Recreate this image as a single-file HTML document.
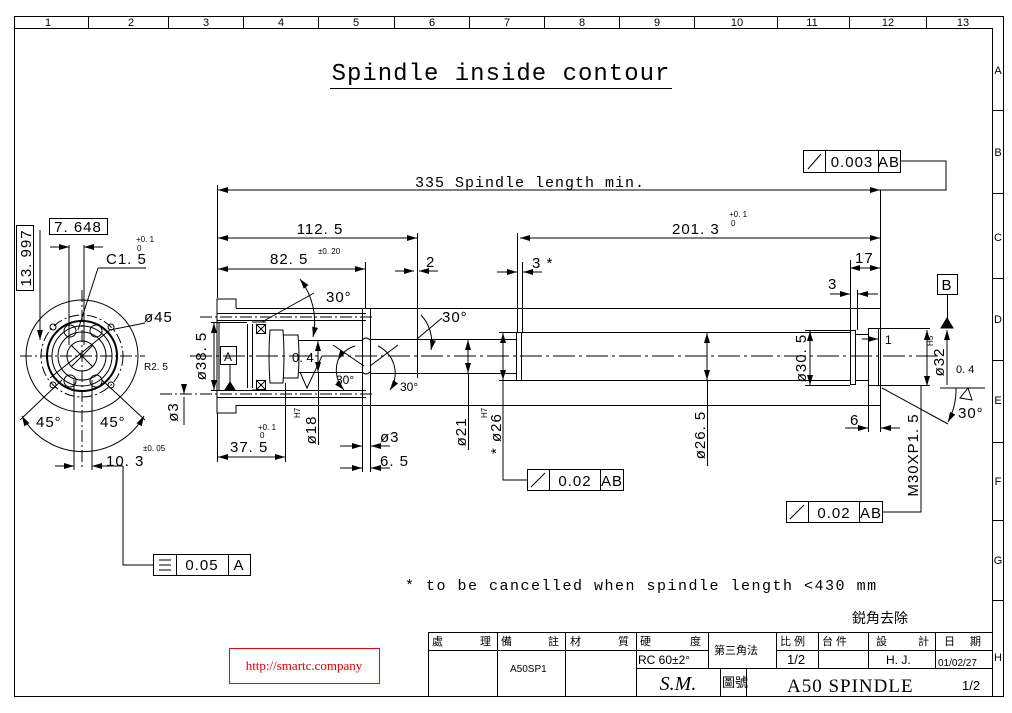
<!DOCTYPE html>
<html><head><meta charset="utf-8"><style>
html,body{margin:0;padding:0;background:#fff}
svg{display:block}
text{font-family:"Liberation Sans","Noto Sans CJK TC",sans-serif;fill:#000}
.d{font-size:15px;letter-spacing:1px}
.m{font-family:"Liberation Mono",monospace;font-size:15px;letter-spacing:1px}
.s{font-size:8px}
</style></head><body>
<svg width="1012" height="713" viewBox="0 0 1012 713" xmlns="http://www.w3.org/2000/svg">
<defs>
<marker id="a" viewBox="0 0 10 6" refX="10" refY="3" markerWidth="10" markerHeight="6" orient="auto-start-reverse"><path d="M0,0 L10,3 L0,6z" fill="#000"/></marker>
</defs>
<g fill="none" stroke="#000" stroke-width="1">
<rect x="14.5" y="16.5" width="989" height="680"/>
<line x1="14" y1="28.5" x2="992" y2="28.5"/>
<line x1="992.5" y1="28" x2="992.5" y2="697"/>
<path d="M88.5 16v12M168.5 16v12M243.5 16v12M318.5 16v12M394.5 16v12M469.5 16v12M544.5 16v12M619.5 16v12M694.5 16v12M777.5 16v12M849.5 16v12M926.5 16v12"/>
<path d="M992 110.5h11M992 193.5h11M992 278.5h11M992 360.5h11M992 442.5h11M992 520.5h11M992 600.5h11"/>
<line x1="330" y1="88.5" x2="672" y2="88.5"/>
</g>
<g class="s" font-size="11" text-anchor="middle">
<text x="48" y="26" font-size="11">1</text><text x="131" y="26" font-size="11">2</text><text x="206" y="26" font-size="11">3</text><text x="281" y="26" font-size="11">4</text><text x="356" y="26" font-size="11">5</text><text x="432" y="26" font-size="11">6</text><text x="507" y="26" font-size="11">7</text><text x="582" y="26" font-size="11">8</text><text x="657" y="26" font-size="11">9</text><text x="737" y="26" font-size="11">10</text><text x="812" y="26" font-size="11">11</text><text x="888" y="26" font-size="11">12</text><text x="963" y="26" font-size="11">13</text>
<text x="998" y="74" font-size="11">A</text><text x="998" y="156" font-size="11">B</text><text x="998" y="241" font-size="11">C</text><text x="998" y="323" font-size="11">D</text><text x="998" y="404" font-size="11">E</text><text x="998" y="485" font-size="11">F</text><text x="998" y="564" font-size="11">G</text><text x="998" y="661" font-size="11">H</text>
</g>
<text x="501" y="80" text-anchor="middle" font-size="24" style="font-family:'Liberation Mono',monospace;letter-spacing:1px">Spindle inside contour</text>

<g fill="none" stroke="#000" stroke-width="1">
<circle cx="82" cy="356" r="56"/>
<circle cx="82" cy="356" r="41" stroke-dasharray="10 3 2 3"/>
<circle cx="82" cy="356" r="35" stroke-width="2"/>
<circle cx="82" cy="356" r="30"/>
<circle cx="82" cy="356" r="24"/>
<circle cx="82" cy="356" r="15"/>
<circle cx="53" cy="327" r="3"/><circle cx="111" cy="327" r="3"/><circle cx="53" cy="385" r="3"/><circle cx="111" cy="385" r="3"/>
<circle cx="70" cy="331" r="6"/><circle cx="96" cy="331" r="6"/><circle cx="70" cy="381" r="6"/><circle cx="96" cy="381" r="6"/>
<line x1="20" y1="356" x2="145" y2="356" stroke-dasharray="12 3 2 3"/>
<line x1="82" y1="290" x2="82" y2="470" stroke-dasharray="12 3 2 3"/>
<line x1="71" y1="345" x2="93" y2="367"/><line x1="93" y1="345" x2="71" y2="367"/>
<line x1="50" y1="378" x2="110" y2="330"/>
<line x1="110" y1="330" x2="145" y2="323"/>
<line x1="20" y1="420" x2="62" y2="380"/><line x1="145" y1="420" x2="102" y2="380"/>
<path d="M22 416 A70 70 0 0 0 144 416" marker-start="url(#a)" marker-end="url(#a)"/>
<line x1="69" y1="245" x2="69" y2="345"/><line x1="84" y1="245" x2="84" y2="345"/>
<line x1="50" y1="247" x2="69" y2="247" marker-end="url(#a)"/><line x1="103" y1="247" x2="84" y2="247" marker-end="url(#a)"/>
<line x1="40" y1="230" x2="40" y2="330"/>
<line x1="40" y1="290" x2="40" y2="340" marker-end="url(#a)"/>
<line x1="78" y1="330" x2="98" y2="268"/><line x1="98" y1="268" x2="146" y2="268"/>
<line x1="74" y1="380" x2="74" y2="470"/><line x1="92" y1="380" x2="92" y2="470"/>
<line x1="55" y1="466" x2="74" y2="466" marker-end="url(#a)"/><line x1="123" y1="466" x2="92" y2="466" marker-end="url(#a)"/>
<polyline points="123,466 123,565 153,565"/>
<rect x="49.5" y="218.5" width="58" height="16"/>
<rect x="16.5" y="225.5" width="17" height="65"/>
<rect x="153.5" y="554.5" width="97" height="21"/><line x1="176.5" y1="554" x2="176.5" y2="575"/><line x1="228.5" y1="554" x2="228.5" y2="575"/>
<path d="M159 560h12M159 565h12M159 570h12"/>
</g>
<text x="78" y="232" class="d" text-anchor="middle">7. 648</text>
<text transform="translate(31,258) rotate(-90)" class="d" text-anchor="middle">13. 997</text>
<text x="106" y="264" class="d">C1. 5</text><text x="136" y="242" class="s">+0. 1</text><text x="137" y="251" class="s">0</text>
<text x="144" y="322" class="d">ø45</text>
<text x="144" y="370" font-size="10">R2. 5</text>
<text x="36" y="427" class="d">45°</text><text x="100" y="427" class="d">45°</text>
<text x="106" y="466" class="d">10. 3</text><text x="143" y="451" class="s">±0. 05</text>
<text x="202" y="570" class="d" text-anchor="middle">0.05</text><text x="239" y="570" class="d" text-anchor="middle">A</text>

<g fill="none" stroke="#000" stroke-width="1">
<polyline points="236,308 236,299 217,299 217,413 236,413 236,405"/>
<line x1="236" y1="308.5" x2="880" y2="308.5"/>
<line x1="236" y1="405.5" x2="880" y2="405.5"/>
<line x1="880.5" y1="190" x2="880.5" y2="405"/>
<line x1="217" y1="313.5" x2="366" y2="313.5"/><line x1="217" y1="320.5" x2="366" y2="320.5"/>
<line x1="217" y1="390.5" x2="366" y2="390.5"/><line x1="217" y1="397.5" x2="366" y2="397.5"/>
<line x1="200" y1="317" x2="372" y2="317" stroke-dasharray="12 3 2 3"/>
<line x1="160" y1="394" x2="372" y2="394" stroke-dasharray="12 3 2 3"/>
<line x1="190" y1="356" x2="940" y2="356" stroke-dasharray="22 4 3 4"/>
<polyline points="219,322 219,391"/>
<line x1="219" y1="322.5" x2="247" y2="322.5"/><line x1="219" y1="390.5" x2="247" y2="390.5"/>
<line x1="247.5" y1="324" x2="247.5" y2="388"/><line x1="252.5" y1="324" x2="252.5" y2="388"/>
<rect x="256.5" y="324.5" width="9" height="9"/><path d="M256 324l10 10M266 324l-10 10"/>
<rect x="256.5" y="380.5" width="9" height="9"/><path d="M256 380l10 10M266 380l-10 10"/>
<path d="M252 322h14M252 390h14"/>
<path d="M270 330 Q268 356 270 383 L283 383 Q285 356 283 330Z"/>
<path d="M283 335 L298 335 Q300 356 298 378 L283 378"/>
<line x1="298" y1="340.5" x2="362" y2="340.5"/><line x1="298" y1="372.5" x2="362" y2="372.5"/>
<path d="M300 372 L307 388 L322 356"/>
<rect x="362.5" y="308.5" width="8" height="97" />
<path d="M362 340 Q366 336 370 340M362 372 Q366 376 370 372"/>
<line x1="370" y1="339.5" x2="417" y2="339.5"/><line x1="370" y1="373.5" x2="417" y2="373.5"/>
<line x1="417.5" y1="334" x2="417.5" y2="378"/>
<line x1="417" y1="339.5" x2="516" y2="339.5"/><line x1="417" y1="373.5" x2="516" y2="373.5"/>
<rect x="516.5" y="332.5" width="5" height="48"/>
<line x1="521" y1="332.5" x2="850" y2="332.5"/><line x1="521" y1="380.5" x2="850" y2="380.5"/>
<rect x="850.5" y="330.5" width="5" height="54"/>
<rect x="855.5" y="334.5" width="13" height="46"/>
<rect x="868.5" y="328.5" width="10" height="57"/>
<line x1="878" y1="328.5" x2="930" y2="328.5"/><line x1="878" y1="385.5" x2="930" y2="385.5"/>
<line x1="217.5" y1="185" x2="217.5" y2="298"/>
<line x1="218" y1="190" x2="880" y2="190" marker-start="url(#a)" marker-end="url(#a)"/>
<polyline points="900,161 946,161 946,190 880,190"/>
<line x1="218" y1="238" x2="417" y2="238" marker-start="url(#a)" marker-end="url(#a)"/>
<line x1="417.5" y1="233" x2="417.5" y2="338"/>
<line x1="218" y1="269" x2="365" y2="269" marker-start="url(#a)" marker-end="url(#a)"/>
<line x1="365.5" y1="262" x2="365.5" y2="308"/>
<line x1="395" y1="271" x2="414" y2="271" marker-end="url(#a)"/><line x1="438" y1="271" x2="419" y2="271" marker-end="url(#a)"/>
<line x1="520" y1="238" x2="880" y2="238" marker-start="url(#a)" marker-end="url(#a)"/>
<line x1="517.5" y1="233" x2="517.5" y2="332"/><line x1="522.5" y1="262" x2="522.5" y2="332"/>
<line x1="497" y1="272" x2="517" y2="272" marker-end="url(#a)"/><line x1="542" y1="272" x2="523" y2="272" marker-end="url(#a)"/>
<line x1="850.5" y1="260" x2="850.5" y2="330"/><line x1="857.5" y1="290" x2="857.5" y2="330"/>
<line x1="830" y1="294" x2="850" y2="294" marker-end="url(#a)"/><line x1="878" y1="294" x2="858" y2="294" marker-end="url(#a)"/>
<line x1="850" y1="268" x2="880" y2="268" marker-start="url(#a)" marker-end="url(#a)"/>
<line x1="868.5" y1="386" x2="868.5" y2="432"/>
<line x1="845" y1="428" x2="868" y2="428" marker-end="url(#a)"/><line x1="900" y1="428" x2="881" y2="428" marker-end="url(#a)"/>
<line x1="880.5" y1="405" x2="880.5" y2="432"/>
<line x1="862" y1="339" x2="878" y2="339" marker-end="url(#a)"/>
<line x1="211" y1="322.5" x2="219" y2="322.5"/><line x1="211" y1="390.5" x2="219" y2="390.5"/>
<line x1="214" y1="323" x2="214" y2="390" marker-start="url(#a)" marker-end="url(#a)"/>
<line x1="184" y1="397" x2="184" y2="425"/>
<line x1="184" y1="385" x2="184" y2="394" marker-end="url(#a)"/>
<line x1="217.5" y1="413" x2="217.5" y2="462"/><line x1="285.5" y1="383" x2="285.5" y2="462"/>
<line x1="218" y1="457" x2="285" y2="457" marker-start="url(#a)" marker-end="url(#a)"/>
<line x1="318" y1="341" x2="318" y2="372" marker-start="url(#a)" marker-end="url(#a)"/>
<line x1="318.5" y1="372" x2="318.5" y2="445"/>
<line x1="362.5" y1="406" x2="362.5" y2="472"/><line x1="370.5" y1="406" x2="370.5" y2="472"/>
<line x1="340" y1="446" x2="362" y2="446" marker-end="url(#a)"/><line x1="390" y1="446" x2="371" y2="446" marker-end="url(#a)"/>
<line x1="340" y1="468" x2="362" y2="468" marker-end="url(#a)"/><line x1="390" y1="468" x2="371" y2="468" marker-end="url(#a)"/>
<line x1="468" y1="340" x2="468" y2="373" marker-start="url(#a)" marker-end="url(#a)"/>
<line x1="468.5" y1="373" x2="468.5" y2="450"/>
<line x1="503" y1="333" x2="503" y2="380" marker-start="url(#a)" marker-end="url(#a)"/>
<polyline points="503,380 503,480 527,480"/>
<line x1="499" y1="332.5" x2="516" y2="332.5"/><line x1="499" y1="380.5" x2="516" y2="380.5"/>
<line x1="707" y1="333" x2="707" y2="380" marker-start="url(#a)" marker-end="url(#a)"/>
<line x1="707.5" y1="380" x2="707.5" y2="466"/>
<line x1="810" y1="331" x2="810" y2="385" marker-start="url(#a)" marker-end="url(#a)"/>
<line x1="805" y1="330.5" x2="850" y2="330.5"/><line x1="805" y1="385.5" x2="850" y2="385.5"/>
<line x1="927" y1="330" x2="927" y2="386" marker-start="url(#a)" marker-end="url(#a)"/>
<polyline points="921,386 921,512 882,512"/>
<line x1="947" y1="385" x2="947" y2="330" marker-end="url(#a)"/>
<line x1="947.5" y1="294" x2="947.5" y2="328"/>
<polygon points="941,328 953,328 947,318" fill="#000"/>
<rect x="937.5" y="274.5" width="20" height="20"/>
<line x1="882" y1="388" x2="948" y2="424"/><line x1="940" y1="388" x2="985" y2="388"/>
<path d="M956 388 A70 70 0 0 1 948 422" marker-end="url(#a)"/>
<path d="M960 398 l8 -10 l4 12z"/>
<line x1="262" y1="322" x2="314" y2="293"/>
<path d="M300 279 A70 70 0 0 1 313 337" marker-start="url(#a)" marker-end="url(#a)"/>
<line x1="417" y1="339" x2="442" y2="318"/>
<path d="M421 315 A40 40 0 0 1 431 350" marker-end="url(#a)"/>
<path d="M338 360 A30 30 0 0 1 355 346" marker-start="url(#a)"/>
<path d="M344 390 A30 30 0 0 1 338 360" marker-start="url(#a)"/>
<line x1="333" y1="345" x2="364" y2="366"/><line x1="370" y1="366" x2="398" y2="345"/>
<path d="M378 346 A30 30 0 0 1 390 390" marker-end="url(#a)"/>
<rect x="220.5" y="346.5" width="16" height="18"/>
<line x1="230" y1="365" x2="230" y2="384"/>
<polygon points="225,390 235,390 230,382" fill="#000"/>
<rect x="803.5" y="150.5" width="97" height="22"/><line x1="825.5" y1="150" x2="825.5" y2="172"/><line x1="878.5" y1="150" x2="878.5" y2="172"/>
<line x1="808" y1="169" x2="821" y2="154"/>
<rect x="527.5" y="469.5" width="96" height="21"/><line x1="549.5" y1="469" x2="549.5" y2="490"/><line x1="600.5" y1="469" x2="600.5" y2="490"/>
<line x1="531" y1="487" x2="545" y2="473"/>
<rect x="786.5" y="501.5" width="96" height="21"/><line x1="808.5" y1="501" x2="808.5" y2="522"/><line x1="859.5" y1="501" x2="859.5" y2="522"/>
<line x1="790" y1="519" x2="804" y2="505"/>
</g>
<text x="852" y="167" class="d" text-anchor="middle">0.003</text><text x="889" y="167" class="d" text-anchor="middle">AB</text>
<text x="575" y="486" class="d" text-anchor="middle">0.02</text><text x="612" y="486" class="d" text-anchor="middle">AB</text>
<text x="834" y="518" class="d" text-anchor="middle">0.02</text><text x="871" y="518" class="d" text-anchor="middle">AB</text>
<text x="947" y="290" class="d" text-anchor="middle">B</text>
<text x="228" y="361" font-size="12" text-anchor="middle">A</text>
<text x="530" y="187" class="m" text-anchor="middle">335  Spindle length min.</text>
<text x="320" y="234" class="d" text-anchor="middle">112. 5</text>
<text x="270" y="264" class="d">82. 5</text><text x="318" y="254" class="s">±0. 20</text>
<text x="426" y="267" class="d">2</text>
<text x="672" y="234" class="d">201. 3</text><text x="729" y="217" class="s">+0. 1</text><text x="731" y="226" class="s">0</text>
<text x="532" y="268" class="d">3 *</text>
<text x="828" y="289" class="d">3</text><text x="855" y="263" class="d">17</text>
<text x="850" y="425" class="d">6</text>
<text x="885" y="344" font-size="12">1</text>
<text x="326" y="302" class="d">30°</text><text x="442" y="322" class="d">30°</text>
<text x="336" y="384" font-size="12">30°</text><text x="400" y="391" font-size="12">30°</text>
<text x="958" y="418" class="d">30°</text>
<text x="956" y="373" font-size="11">0. 4</text>
<text x="292" y="362" font-size="13">0. 4</text>
<text x="230" y="452" class="d">37. 5</text><text x="258" y="430" class="s">+0. 1</text><text x="260" y="438" class="s">0</text>
<text x="380" y="442" class="d">ø3</text><text x="380" y="466" class="d">6. 5</text>
<text transform="translate(206,356) rotate(-90)" class="d" text-anchor="middle">ø38. 5</text>
<text transform="translate(178,412) rotate(-90)" class="d" text-anchor="middle">ø3</text>
<text transform="translate(316,430) rotate(-90)" class="d" text-anchor="middle">ø18</text><text transform="translate(300,418) rotate(-90)" class="s">H7</text>
<text transform="translate(466,432) rotate(-90)" class="d" text-anchor="middle">ø21</text>
<text transform="translate(501,454) rotate(-90)" class="d">* ø26</text><text transform="translate(487,418) rotate(-90)" class="s">H7</text>
<text transform="translate(705,435) rotate(-90)" class="d" text-anchor="middle">ø26. 5</text>
<text transform="translate(806,358) rotate(-90)" class="d" text-anchor="middle">ø30. 5</text>
<text transform="translate(944,362) rotate(-90)" class="d" text-anchor="middle">ø32</text><text transform="translate(933,346) rotate(-90)" class="s">H5</text>
<text transform="translate(918,455) rotate(-90)" class="d" text-anchor="middle">M30XP1. 5</text>
<text x="405" y="590" style="font-family:'Liberation Mono',monospace;font-size:15px;letter-spacing:1.5px">*  to be cancelled when spindle length &lt;430 mm</text>
<text x="852" y="623" font-size="14">鋭角去除</text>

<g fill="none" stroke="#000" stroke-width="1">
<rect x="428.5" y="632.5" width="564" height="64"/>
<line x1="428" y1="650.5" x2="708" y2="650.5"/><line x1="776" y1="650.5" x2="992" y2="650.5"/>
<line x1="636" y1="668.5" x2="992" y2="668.5"/>
<line x1="497.5" y1="632" x2="497.5" y2="697"/><line x1="565.5" y1="632" x2="565.5" y2="697"/><line x1="636.5" y1="632" x2="636.5" y2="697"/>
<line x1="708.5" y1="632" x2="708.5" y2="668"/><line x1="776.5" y1="632" x2="776.5" y2="668"/>
<line x1="818.5" y1="632" x2="818.5" y2="668"/><line x1="868.5" y1="632" x2="868.5" y2="668"/><line x1="935.5" y1="632" x2="935.5" y2="668"/>
<line x1="720.5" y1="668" x2="720.5" y2="697"/><line x1="746.5" y1="668" x2="746.5" y2="697"/>
</g>
<g font-size="11">
<text x="432" y="645">處</text><text x="480" y="645">理</text>
<text x="501" y="645">備</text><text x="548" y="645">註</text>
<text x="570" y="645">材</text><text x="618" y="645">質</text>
<text x="640" y="645">硬</text><text x="690" y="645">度</text>
<text x="714" y="654">第三角法</text>
<text x="780" y="645">比 例</text><text x="822" y="645">台 件</text>
<text x="876" y="645">設</text><text x="918" y="645">計</text>
<text x="944" y="645">日</text><text x="970" y="645">期</text>
<text x="510" y="672" font-size="10">A50SP1</text>
<text x="638" y="664" font-size="12">RC 60±2°</text>
<text x="787" y="664" font-size="13">1/2</text>
<text x="886" y="664" font-size="12">H. J.</text>
<text x="938" y="666" font-size="10">01/02/27</text>
<text x="722" y="687" font-size="13">圖號</text>
</g>
<text x="678" y="690" font-size="20" font-style="italic" text-anchor="middle" style="font-family:'Liberation Serif',serif">S.M.</text>
<text x="787" y="692" font-size="19" style="font-family:'Liberation Serif',serif;letter-spacing:1px">A50  SPINDLE</text>
<text x="962" y="690" font-size="13">1/2</text>
<rect x="229.5" y="648.5" width="150" height="35" fill="none" stroke="#e00"/>
<text x="304" y="670" font-size="13" text-anchor="middle" style="font-family:'Liberation Serif',serif;fill:#d00">http://smartc.company</text>
</svg>
</body></html>
